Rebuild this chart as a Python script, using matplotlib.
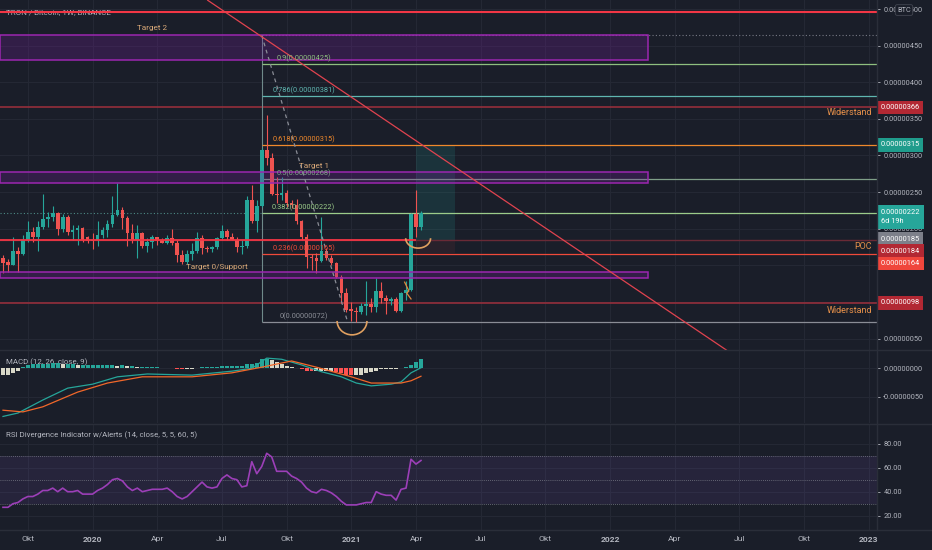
import pandas as pd
import matplotlib
matplotlib.use("Agg")
import matplotlib.pyplot as plt
import matplotlib.dates as mdates
import matplotlib.transforms as mtransforms
from matplotlib.patches import Rectangle, Arc
from matplotlib.lines import Line2D

plt.rcParams['font.family'] = ['Roboto', 'DejaVu Sans']

# Weekly TRX/BTC candles, prices in satoshi (1e-8 BTC)
first_week = "2019-08-26"
n_weeks = 85
opens = [160, 154, 151, 169, 165, 185, 196, 188, 203, 213,
         216, 222, 199, 216, 196, 198, 201, 188, 184, 184,
         192, 198, 206, 219, 226, 215, 194, 184, 194, 177,
         182, 188, 184, 181, 187, 180, 164, 154, 165, 169,
         187, 174, 172, 175, 187, 197, 189, 185, 175, 177,
         239, 210, 231, 307, 296, 248, 246, 249, 235, 233,
         210, 188, 161, 160, 156, 170, 160, 153, 134, 112,
         90, 88, 86, 95, 97, 93, 115, 106, 101, 104,
         88, 112, 116, 220, 203]
highs = [164, 159, 188, 175, 191, 210, 203, 210, 247, 223,
         231, 223, 220, 219, 205, 205, 203, 190, 194, 210,
         203, 212, 244, 262, 230, 217, 206, 205, 196, 187,
         191, 189, 187, 192, 200, 185, 171, 171, 180, 195,
         192, 176, 177, 189, 205, 200, 194, 189, 185, 244,
         260, 239, 310, 355, 304, 271, 271, 253, 239, 241,
         212, 193, 166, 167, 216, 174, 164, 155, 137, 119,
         100, 93, 98, 128, 105, 132, 127, 109, 107, 107,
         114, 128, 221, 253, 224]
lows = [139, 141, 150, 141, 164, 182, 182, 169, 200, 203,
        210, 191, 196, 192, 185, 178, 182, 180, 172, 177,
        187, 189, 203, 217, 200, 177, 180, 160, 173, 168,
        173, 178, 180, 179, 178, 154, 152, 152, 157, 167,
        166, 168, 168, 172, 184, 184, 184, 168, 166, 173,
        208, 196, 229, 287, 246, 235, 239, 229, 228, 207,
        184, 146, 144, 139, 154, 157, 150, 132, 98, 86,
        74, 72, 84, 82, 86, 86, 98, 84, 96, 86,
        86, 103, 115, 189, 198]
closes = [153, 150, 169, 165, 185, 196, 188, 203, 213, 216,
          222, 199, 216, 196, 198, 201, 185, 183, 183, 192,
          198, 206, 219, 225, 215, 194, 184, 194, 177, 182,
          188, 183, 181, 187, 180, 164, 154, 165, 169, 187,
          173, 172, 175, 187, 197, 189, 185, 175, 177, 239,
          210, 231, 307, 296, 248, 246, 249, 235, 232, 210,
          188, 161, 160, 156, 170, 160, 153, 134, 112, 89,
          87, 86, 95, 97, 93, 115, 106, 101, 104, 88,
          112, 116, 220, 203, 222]

# MACD (12, 26, close, 9) in satoshi
macd_hist = [-12, -11, -9, -5, 2, 5, 7, 7, 7, 7,
             9, 9, 7, 7, 7, 5, 5, 5, 5, 5,
             5, 5, 5, 4, 5, 4, 4, 2, 2, 2,
             2, 2, 1, 1, 0.5, -0.5, -1, -1, -1, 1,
             2, 2, 2, 2, 4, 4, 4, 4, 4, 7,
             7, 9, 16, 16, 14, 11, 7, 4, 2, 1,
             -2, -4, -5, -5, -5, -5, -5, -7, -9, -11,
             -12, -12, -11, -9, -7, -4, -2, -2, -1, -0.5,
             1, 2, 5, 12, 16]
macd_weeks = [0, 3, 8, 13, 18, 23, 29, 38, 46, 50, 53, 56, 60, 64, 68, 71, 74, 78, 80, 82, 84]
macd_line = [-85, -79, -56, -35, -28, -15, -10, -12, -5, 0, 18, 16, 6, -6, -15, -26, -31, -28, -24, -8, 1]
signal_weeks = [0, 4, 8, 15, 21, 28, 38, 46, 52, 58, 63, 70, 74, 80, 82, 84]
signal_line = [-74, -77, -68, -42, -26, -15, -15, -8, 2, 13, 2, -15, -26, -26, -22, -14]

# RSI (14)
rsi = [27, 27, 30, 31, 34, 36, 36, 38, 41, 41,
       43, 40, 43, 40, 40, 41, 38, 38, 38, 41,
       43, 46, 50, 51, 49, 44, 41, 43, 40, 41,
       42, 42, 42, 43, 40, 36, 34, 36, 40, 44,
       48, 44, 43, 44, 51, 54, 51, 50, 44, 45,
       65, 55, 61, 72, 69, 57, 57, 57, 53, 51,
       48, 43, 40, 39, 42, 41, 39, 36, 32, 29,
       29, 29, 30, 31, 31, 40, 38, 37, 37, 33,
       42, 43, 67, 63, 66]

# Fibonacci retracement drawn from the Aug 2020 spike
fib_start_week = 52
fib_levels = ["0.9", "0.786", "0.618", "0.5", "0.382", "0.236", "0"]
fib_prices = [425, 381, 315, 268, 222, 165, 72]
fib_colors = ["#8fbf7f", "#5fb6b0", "#f0892b", "#7f9f88", "#9ccc8a", "#f04a3a", "#8a8d96"]
fib_top = 464

# Zones and horizontal lines
zone_names = ["Target 2", "Target 1", "Target 0/Support"]
zone_tops = [465, 277, 141]
zone_bottoms = [430, 263, 133]
zone_label_dates = ["2020-03-23", "2020-11-05", "2020-06-22"]
zone_label_prices = [474, 285, 148]
zone_end = "2022-02-18"
resistance = [366, 98]
poc_price = 185
red_line_top = 496
red_line_mid = 184
current_price = 222

# hand drawn trend lines and marks
trend_dates = ["2020-06-09", "2022-06-09"]
trend_prices = [512, 34]
fib_path_dates = ["2020-08-24", "2020-12-23"]
fib_path_prices = [464, 72]
squiggle_dates = ["2021-03-13", "2021-03-19", "2021-03-16", "2021-03-22"]
squiggle_prices = [127, 115, 112, 104]
position_dates = ["2021-03-29", "2021-05-23"]
position_prices = [315, 185, 167]

tick_dates = ["2019-09-30", "2019-12-30", "2020-03-30", "2020-06-29", "2020-09-28",
              "2020-12-28", "2021-03-29", "2021-06-28", "2021-09-27", "2021-12-27",
              "2022-03-28", "2022-06-27", "2022-09-26", "2022-12-26"]
tick_labels = ["Okt", "2020", "Apr", "Jul", "Okt", "2021", "Apr", "Jul", "Okt",
               "2022", "Apr", "Jul", "Okt", "2023"]

BG = "#1a1e29"
GRID = "#252935"
TXT = "#b2b5be"
UP = "#26a69a"
DOWN = "#ef5350"
FS = 5.3

weeks = pd.date_range(first_week, periods=n_weeks, freq="7D")
x = mdates.date2num(weeks)
d = lambda s: mdates.date2num(pd.Timestamp(s))
xticks = [d(t) for t in tick_dates]
xmin, xmax = x[0] - 4.2, x[0] + 1229.5

W, H = 932, 550
fig = plt.figure(figsize=(W / 100, H / 100), dpi=100, facecolor=BG)
ax = fig.add_axes([0, 200 / H, 877 / W, 350 / H])
axm = fig.add_axes([0, 127 / H, 877 / W, 72 / H])
axr = fig.add_axes([0, 20 / H, 877 / W, 106 / H])

for a in (ax, axm, axr):
    a.set_facecolor(BG)
    a.set_xlim(xmin, xmax)
    for s in a.spines.values():
        s.set_visible(False)
    a.set_xticks(xticks)
    a.grid(True, color=GRID, lw=0.7)
    a.set_axisbelow(True)
    a.yaxis.tick_right()
    a.tick_params(axis="y", colors=TXT, labelsize=FS, length=2, width=0.6, pad=2.5)
    a.tick_params(axis="x", length=0, labelbottom=False)

# ---------- main price panel ----------
ax.set_ylim(34.3, 512.4)
yt = list(range(50, 501, 50))
ax.set_yticks(yt)
# 100 and 150 sit under the price tags in the reference
ax.set_yticklabels([f"{v * 1e-8:.8f}" if v not in (100, 150) else "" for v in yt])

cols = [UP if c >= o else DOWN for o, c in zip(opens, closes)]
ax.vlines(x, lows, highs, colors=cols, lw=0.8, zorder=3)
bottoms = [min(o, c) for o, c in zip(opens, closes)]
heights = [max(abs(c - o), 1.0) for o, c in zip(opens, closes)]
ax.bar(x, heights, bottom=bottoms, width=5.2, color=cols, lw=0, zorder=3)

# zones
for name, top, bot, ld, lp in zip(zone_names, zone_tops, zone_bottoms, zone_label_dates, zone_label_prices):
    ax.add_patch(Rectangle((xmin, bot), d(zone_end) - xmin, top - bot, fc="#7b1fa2", alpha=0.25, lw=0, zorder=4))
    ax.add_patch(Rectangle((xmin, bot), d(zone_end) - xmin, top - bot, fc="none", ec="#9c27b0", lw=1.1, zorder=4))
    ax.text(d(ld), lp, name, color="#d8a878", fontsize=FS + 0.6, ha="center", va="center", zorder=6)

# horizontal lines
ax.axhline(red_line_top, color="#f23645", lw=1.5, zorder=5)
for r in resistance:
    ax.axhline(r, color="#9e2f3c", lw=1.1, zorder=2)
ax.axhline(poc_price, color="#6a2a36", lw=1.0, zorder=2)
ax.hlines(red_line_mid, xmin, d(position_dates[0]), color="#f23645", lw=1.3, zorder=5)
ax.axhline(current_price, color="#4d8a86", lw=0.8, ls=(0, (1, 2)), zorder=2)

# fib retracement
fx = x[fib_start_week]
ax.vlines(fx, fib_prices[-1], fib_top, color="#6f8a8a", lw=0.8, zorder=2)
ax.hlines(fib_top, fx, xmax, color="#787b86", lw=0.8, ls=(0, (1, 2)), zorder=2)
for lev, p, c in zip(fib_levels, fib_prices, fib_colors):
    ax.hlines(p, fx, xmax, color=c, lw=0.9, zorder=2)
    ax.annotate(f"{lev}({p * 1e-8:.8f})", (fx + 59, p), xytext=(0, 1.2), textcoords="offset points",
                color=c, fontsize=FS, ha="center", va="bottom", zorder=6)
ax.plot([d(s) for s in fib_path_dates], fib_path_prices, color="#8a8d96", lw=0.9, ls=(0, (3, 3)), zorder=5)

# trend line
ax.plot([d(s) for s in trend_dates], trend_prices, color="#e0434f", lw=0.9, zorder=5)

# long position tool
px0, px1 = d(position_dates[0]), d(position_dates[1])
ax.add_patch(Rectangle((px0, position_prices[1]), px1 - px0, position_prices[0] - position_prices[1],
                       fc=UP, alpha=0.16, lw=0, zorder=1))
ax.add_patch(Rectangle((px0, position_prices[2]), px1 - px0, position_prices[1] - position_prices[2],
                       fc="#ef5350", alpha=0.07, lw=0, zorder=1))

# hand drawn arcs
ax.add_patch(Arc((d("2020-12-29"), 74), 42, 38, theta1=180, theta2=360, color="#e0a060", lw=1.2, zorder=6))
ax.add_patch(Arc((d("2021-04-01"), 187), 35, 27, theta1=180, theta2=360, color="#e0a060", lw=1.2, zorder=6))
ax.plot([d(s) for s in squiggle_dates], squiggle_prices, color="#e08a3c", lw=0.9, zorder=6)

# texts
bt = mtransforms.blended_transform_factory(ax.transAxes, ax.transData)
ax.text(6 / 877, 1 - 12 / 350, "TRON / Bitcoin, 1W, BINANCE", transform=ax.transAxes,
        color=TXT, fontsize=FS + 0.5, ha="left", va="center", zorder=4)
for yy, s in [(359, "Widerstand"), (88, "Widerstand"), (175, "POC")]:
    ax.text(0.994, yy, s, color="#e8914a", fontsize=FS + 1.2, ha="right", va="center", transform=bt)

# price tags on the right axis (value, display position, colour)
tag_values = [366, 315, 185, 184, 164, 98]
tag_positions = [365.3, 314.7, 185.5, 169.5, 152.7, 98.9]
tag_colors = ["#b22833", "#1f9c8c", "#7d808a", "#b22833", "#f0463c", "#b22833"]
for v, pos, c in zip(tag_values, tag_positions, tag_colors):
    ax.text(881 / 877, pos, f"{v * 1e-8:.8f}", transform=bt, color="white", fontsize=FS,
            ha="left", va="center", clip_on=False, zorder=10,
            bbox=dict(boxstyle="square,pad=0.45", fc=c, ec="none"))
ax.text(881 / 877, 216, f"{current_price * 1e-8:.8f}\n6d 19h", transform=bt, color="white",
        fontsize=FS, ha="left", va="center", linespacing=1.5, clip_on=False, zorder=10,
        bbox=dict(boxstyle="square,pad=0.45", fc=UP, ec="none"))
ax.text(904 / 877, 498.7, "BTC", transform=bt, color=TXT, fontsize=FS, ha="center", va="center",
        clip_on=False, zorder=10, bbox=dict(boxstyle="round,pad=0.25", fc=BG, ec="#434651", lw=0.6))

# ---------- MACD panel ----------
axm.set_ylim(-96.6, 30.6)
axm.set_yticks([0, -50])
axm.set_yticklabels([f"{v * 1e-8:.8f}" for v in (0, -50)])
hcols = []
for i, h in enumerate(macd_hist):
    prev = macd_hist[i - 1] if i > 0 else h
    if h >= 0:
        hcols.append(UP if h >= prev else "#d9d8c8")
    else:
        hcols.append("#ff5252" if h < prev else "#d9d8c8")
axm.text(6 / 877, 1 - 11 / 72, "MACD (12, 26, close, 9)", transform=axm.transAxes,
         color=TXT, fontsize=FS + 0.4, ha="left", va="center", zorder=1)
axm.bar(x, macd_hist, width=5.6, color=hcols, lw=0, zorder=2)
axm.plot(x[macd_weeks], macd_line, color=UP, lw=0.9, zorder=3)
axm.plot(x[signal_weeks], signal_line, color="#f2682a", lw=0.9, zorder=3)

# ---------- RSI panel ----------
axr.set_ylim(8.1, 96.4)
axr.set_yticks([20, 40, 60, 80])
axr.set_yticklabels([f"{v:.2f}" for v in (20, 40, 60, 80)])
axr.axhspan(30, 70, color="#7e57c2", alpha=0.12, lw=0)
for lv in (30, 50, 70):
    axr.axhline(lv, color="#787b86", lw=0.6, ls=(0, (1, 1.5)))
axr.plot(x, rsi, color="#9c3fb8", lw=1.2, zorder=3)
axr.text(6 / 877, 1 - 11 / 106, "RSI Divergence Indicator w/Alerts (14, close, 5, 5, 60, 5)",
         transform=axr.transAxes, color=TXT, fontsize=FS + 0.4, ha="left", va="center")

axr.tick_params(axis="x", labelbottom=True, colors=TXT, labelsize=FS + 0.8, pad=4)
axr.set_xticklabels(tick_labels)
for lab in axr.get_xticklabels():
    if lab.get_text().isdigit():
        lab.set_fontweight("bold")

# separators
for yy in (350, 423.5, 530):
    fig.add_artist(Line2D([0, 1], [1 - yy / H, 1 - yy / H], transform=fig.transFigure, color="#2a2e39", lw=1))
fig.add_artist(Line2D([877 / W, 877 / W], [20 / H, 1], transform=fig.transFigure, color="#2a2e39", lw=1))

fig.savefig("out.png", dpi=100, facecolor=BG)
